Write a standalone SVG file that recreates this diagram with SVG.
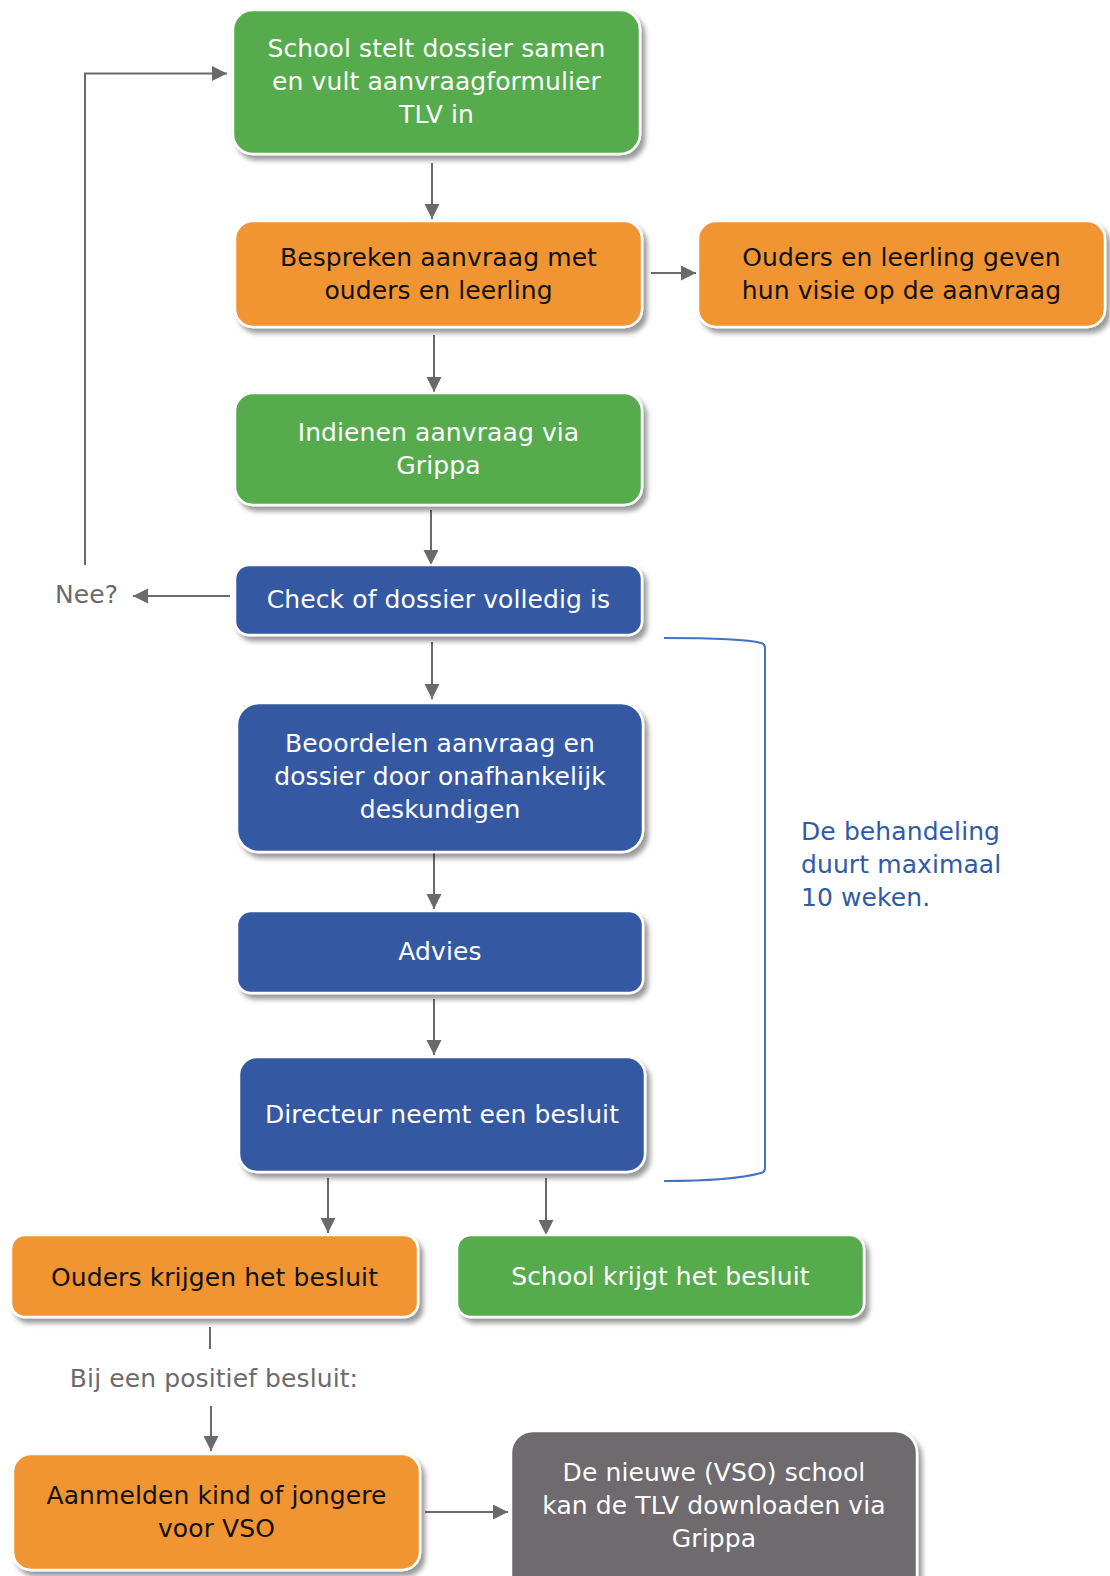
<svg xmlns="http://www.w3.org/2000/svg" width="1110" height="1576" viewBox="0 0 1110 1576">
<defs>
<filter id="sh" x="-10%" y="-10%" width="125%" height="135%">
<feDropShadow dx="4" dy="5" stdDeviation="2.5" flood-color="#000" flood-opacity="0.4"/>
</filter>
<marker id="ah" markerUnits="userSpaceOnUse" markerWidth="16" markerHeight="16" refX="15" refY="7.5" orient="auto">
<path d="M0,0 L15,7.5 L0,15 z" fill="#6b696d"/>
</marker>
<style>
.box{stroke:#fff;stroke-width:2.5;filter:url(#sh)}
.g{fill:#56ab4e}.o{fill:#f09531}.b{fill:#3459a3}.gr{fill:#6e6a6e}
text{font-family:"DejaVu Sans","Verdana",sans-serif;font-size:25px;text-anchor:middle;letter-spacing:0.1px}
.w{fill:#fff}.k{fill:#111}
.c{stroke:#6b696d;stroke-width:2;fill:none}
.lbl{fill:#6d6a6e}
</style>
</defs>
<g id="connectors">
<line class="c" x1="432" y1="163" x2="432" y2="219" marker-end="url(#ah)"/>
<line class="c" x1="651" y1="273" x2="696" y2="273" marker-end="url(#ah)"/>
<line class="c" x1="434" y1="335" x2="434" y2="392" marker-end="url(#ah)"/>
<line class="c" x1="431" y1="510" x2="431" y2="565" marker-end="url(#ah)"/>
<line class="c" x1="230" y1="596" x2="133" y2="596" marker-end="url(#ah)"/>
<polyline class="c" points="85,565 85,73.5 227,73.5" marker-end="url(#ah)"/>
<line class="c" x1="432" y1="642" x2="432" y2="699" marker-end="url(#ah)"/>
<line class="c" x1="434" y1="853" x2="434" y2="909" marker-end="url(#ah)"/>
<line class="c" x1="434" y1="999" x2="434" y2="1055" marker-end="url(#ah)"/>
<line class="c" x1="328" y1="1178" x2="328" y2="1233" marker-end="url(#ah)"/>
<line class="c" x1="546" y1="1178" x2="546" y2="1235" marker-end="url(#ah)"/>
<line class="c" x1="210" y1="1327" x2="210" y2="1349"/>
<line class="c" x1="211" y1="1406" x2="211" y2="1451" marker-end="url(#ah)"/>
<line class="c" x1="425" y1="1512" x2="508" y2="1512" marker-end="url(#ah)"/>
<path d="M664,638 C720,638 750,640 761,643 Q765,644 765,648 L765,1168 Q765,1172 761,1173 C750,1176 720,1181 664,1181" fill="none" stroke="#4472c4" stroke-width="2"/>
</g>
<g id="n1"><rect class="box g" x="233" y="10" width="407" height="144" rx="20"/>
<text class="w" x="436.5" y="57">School stelt dossier samen</text>
<text class="w" x="436.5" y="90">en vult aanvraagformulier</text>
<text class="w" x="436.5" y="123">TLV in</text></g>
<g id="n2"><rect class="box o" x="235" y="221" width="407" height="106" rx="18"/>
<text class="k" x="438.5" y="266">Bespreken aanvraag met</text>
<text class="k" x="438.5" y="299">ouders en leerling</text></g>
<g id="n3"><rect class="box o" x="698" y="221" width="407" height="106" rx="18"/>
<text class="k" x="901.5" y="266">Ouders en leerling geven</text>
<text class="k" x="901.5" y="299">hun visie op de aanvraag</text></g>
<g id="n4"><rect class="box g" x="235" y="393" width="407" height="112" rx="18"/>
<text class="w" x="438.5" y="441">Indienen aanvraag via</text>
<text class="w" x="438.5" y="474">Grippa</text></g>
<g id="n5"><rect class="box b" x="235" y="565" width="407" height="70" rx="14"/>
<text class="w" x="438.5" y="608">Check of dossier volledig is</text></g>
<g id="nee"><text class="lbl" x="55" y="603" style="text-anchor:start">Nee?</text></g>
<g id="n6"><rect class="box b" x="237" y="703" width="406" height="149" rx="22"/>
<text class="w" x="440" y="752">Beoordelen aanvraag en</text>
<text class="w" x="440" y="785">dossier door onafhankelijk</text>
<text class="w" x="440" y="818">deskundigen</text></g>
<g id="n7"><rect class="box b" x="237" y="911" width="406" height="82" rx="14"/>
<text class="w" x="440" y="960">Advies</text></g>
<g id="n8"><rect class="box b" x="239" y="1057" width="406" height="115" rx="18"/>
<text class="w" x="442" y="1123">Directeur neemt een besluit</text></g>
<g id="side"><text x="801" y="840" style="text-anchor:start;fill:#2f5aa8">De behandeling</text>
<text x="801" y="873" style="text-anchor:start;fill:#2f5aa8">duurt maximaal</text>
<text x="801" y="906" style="text-anchor:start;fill:#2f5aa8">10 weken.</text></g>
<g id="n9"><rect class="box o" x="11" y="1235" width="407" height="82" rx="14"/>
<text class="k" x="214.5" y="1286">Ouders krijgen het besluit</text></g>
<g id="n10"><rect class="box g" x="457" y="1235" width="407" height="82" rx="14"/>
<text class="w" x="660.5" y="1285">School krijgt het besluit</text></g>
<g id="pos"><text class="lbl" x="214" y="1387">Bij een positief besluit:</text></g>
<g id="n11"><rect class="box o" x="13" y="1454" width="407" height="116" rx="18"/>
<text class="k" x="216.5" y="1504">Aanmelden kind of jongere</text>
<text class="k" x="216.5" y="1537">voor VSO</text></g>
<g id="n12"><rect class="box gr" x="511" y="1431" width="406" height="170" rx="22"/>
<text class="w" x="714" y="1481">De nieuwe (VSO) school</text>
<text class="w" x="714" y="1514">kan de TLV downloaden via</text>
<text class="w" x="714" y="1547">Grippa</text></g>
</svg>
